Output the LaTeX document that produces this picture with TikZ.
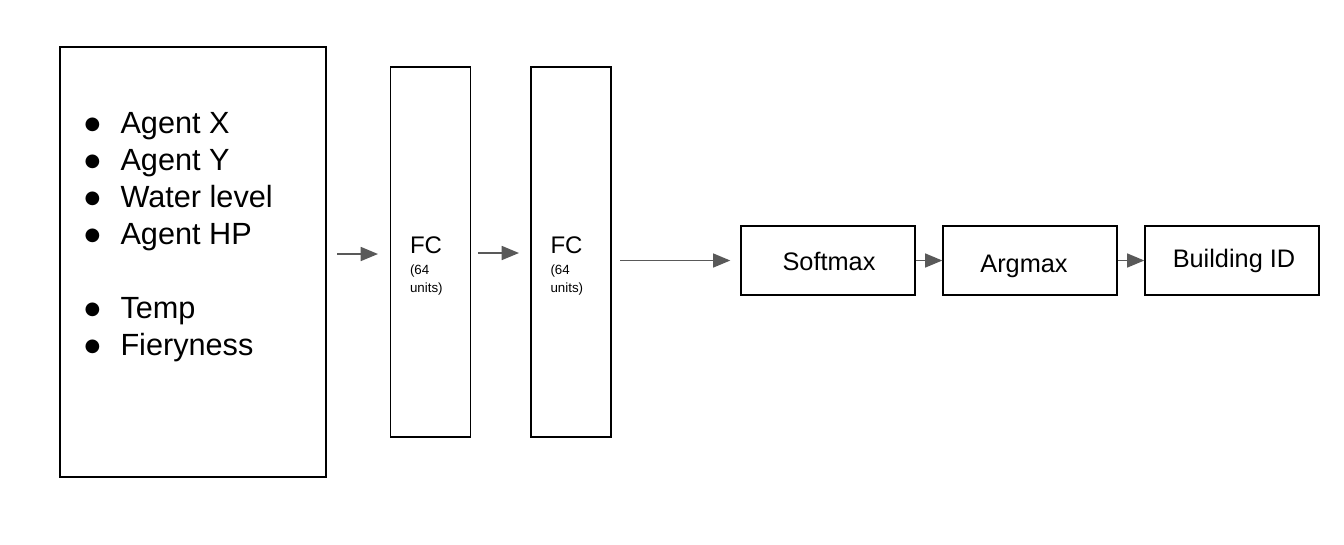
\documentclass[tikz,border=0pt]{standalone}
\usepackage{fontspec}
\setmainfont{Liberation Sans}
\newfontfamily\symfont{DejaVu Sans}
\usetikzlibrary{arrows.meta}

\definecolor{arrgray}{RGB}{89,89,89}
\tikzset{every picture/.style={line width=0.75pt}}
\tikzset{
  blockbox/.style={draw=black, line width=1pt, inner sep=0pt},
  flowarr/.style={draw=arrgray, line width=1.3pt, -{Triangle[length=13pt, width=10.5pt]}},
  bigtxt/.style={font=\fontsize{23}{27}\selectfont, inner sep=0pt},
  midtxt/.style={font=\fontsize{19}{22}\selectfont, inner sep=0pt},
  fctxt/.style={font=\fontsize{18}{21}\selectfont, inner sep=0pt},
  smalltxt/.style={font=\fontsize{10}{13.5}\selectfont, inner sep=0pt, align=left},
}

\begin{document}
\begin{tikzpicture}[x=0.75pt,y=0.75pt,yscale=-1,xscale=1]
        \useasboundingbox (0,0) rectangle (1344,544);

        %Boxes
        \node [blockbox, minimum width=199.5pt, minimum height=322.5pt] (inputs) at (193,262) {};
        \node [blockbox, minimum width=60pt, minimum height=277.5pt] (fcone) at (430.5,252) {};
        \node [blockbox, minimum width=60pt, minimum height=277.5pt] (fctwo) at (571,252) {};
        \node [blockbox, minimum width=130.5pt, minimum height=51.75pt] (softmax) at (828,260.5) {};
        \node [blockbox, minimum width=130.5pt, minimum height=51.75pt] (argmax) at (1030,260.5) {};
        \node [blockbox, minimum width=130.5pt, minimum height=51.75pt] (building) at (1232,260.5) {};

        % Input list
        \foreach \item/\ypos [count=\i] in {Agent X/133, Agent Y/170, Water level/207, Agent HP/244, Temp/318, Fieryness/355}{
          \node [inner sep=0pt] (dot\i) at (92.5,\ypos-8) {\symfont\fontsize{13.5}{15}\selectfont ●};
          \node [bigtxt, anchor=base west] (feat\i) at (120,\ypos) {\item};
        }

        % Text Node
        \node [fctxt, anchor=base west] (fconetxt) at (409.5,253) {FC};
        \node [smalltxt, anchor=north west] (fconeunits) at (409.5,264.5) {(64\\units)};
        \node [fctxt, anchor=base west] (fctwotxt) at (550,253) {FC};
        \node [smalltxt, anchor=north west] (fctwounits) at (550,264.5) {(64\\units)};
        \node [midtxt] (softtxt) at (829,261) {Softmax};
        \node [midtxt] (argtxt) at (1024,266) {Argmax};
        \node [midtxt] (bidtxt) at (1234,261) {Building ID};

        % Arrows
        \coordinate (aonestart) at (337,254);
        \coordinate (aoneend) at (378,254);
        \coordinate (atwostart) at (478,253);
        \coordinate (atwoend) at (519,253);
        \coordinate (athreestart) at (620,260.5);
        \draw [flowarr] (aonestart) -- (aoneend);
        \draw [flowarr] (atwostart) -- (atwoend);
        \draw [flowarr, shorten >=7.5pt] (athreestart) -- (softmax.west);
        \draw [flowarr] (softmax.east) -- (argmax.west);
        \draw [flowarr] (argmax.east) -- (building.west);

\end{tikzpicture}
\end{document}
